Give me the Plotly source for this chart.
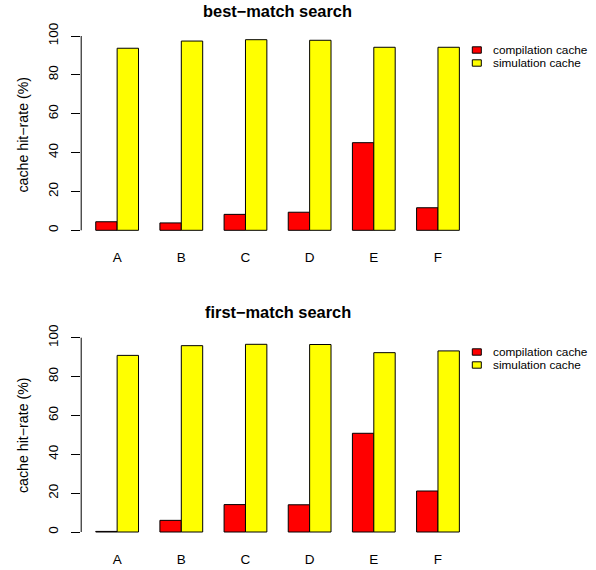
import plotly.graph_objects as go

categories = ["A", "B", "C", "D", "E", "F"]
series_names = ["compilation cache", "simulation cache"]
best_compilation = [4.4, 3.8, 8.2, 9.3, 45.1, 11.6]
best_simulation = [93.7, 97.4, 98.1, 97.8, 94.2, 94.2]
first_compilation = [0.3, 6.0, 14.1, 14.0, 50.8, 21.1]
first_simulation = [90.9, 95.9, 96.6, 96.5, 92.3, 93.2]
panel_titles = ["best\u2212match search", "first\u2212match search"]
y_title = "cache hit\u2212rate (%)"
y_ticks = [0, 20, 40, 60, 80, 100]

W, H = 596, 570
FONT = "Liberation Sans, Arial, Helvetica, sans-serif"
colors = ["#FF0000", "#FFFF00"]

fig = go.Figure()

panels = [
    (best_compilation, best_simulation, "x", "y"),
    (first_compilation, first_simulation, "x2", "y2"),
]
for comp, sim, xa, ya in panels:
    for name, vals, col in zip(series_names, [comp, sim], colors):
        fig.add_trace(go.Bar(
            x=categories, y=vals, name=name, xaxis=xa, yaxis=ya,
            marker=dict(color=col, line=dict(color="black", width=1)),
            showlegend=False, hoverinfo="x+y+name",
        ))

# geometry (pixels measured from reference)
x_left, x_right = 81.2, 473.9
dom_x = [x_left / W, x_right / W]
def ydom(zero_px, hundred_px, lo=-4, hi=102):
    s = (zero_px - hundred_px) / 100.0
    bottom = zero_px - s * lo
    top = zero_px - s * hi
    return [1 - bottom / H, 1 - top / H]

dom_top = ydom(230.3, 36.0)
dom_bot = ydom(532.0, 337.7)

xaxis_common = dict(
    type="category", range=[-0.56, 5.56], showline=False, showgrid=False,
    zeroline=False, ticks="outside", ticklen=0, tickcolor="rgba(0,0,0,0)",
    ticklabelstandoff=7, tickfont=dict(family=FONT, size=13.5, color="black"),
    fixedrange=True, automargin=False,
)
yaxis_common = dict(
    range=[-4, 102], showline=False, showgrid=False, zeroline=False,
    tickmode="array", tickvals=y_ticks, ticktext=[str(v) for v in y_ticks],
    ticks="outside", ticklen=9, tickcolor="black", tickwidth=1,
    tickangle=-90, ticklabelstandoff=8,
    tickfont=dict(family=FONT, size=13.5, color="black"), fixedrange=True,
    automargin=False,
)

fig.update_layout(
    width=W, height=H,
    margin=dict(l=0, r=0, t=0, b=0, autoexpand=False),
    paper_bgcolor="white", plot_bgcolor="white",
    barmode="group", bargap=1/3, bargroupgap=0,
    font=dict(family=FONT, size=13.5, color="black"),
    showlegend=False,
    xaxis=dict(domain=dom_x, anchor="y", **xaxis_common),
    yaxis=dict(domain=dom_top, anchor="x", **yaxis_common),
    xaxis2=dict(domain=dom_x, anchor="y2", **xaxis_common),
    yaxis2=dict(domain=dom_bot, anchor="x2", **yaxis_common),
)

for yref in ["y", "y2"]:
    fig.add_shape(type="line", xref="paper", yref=yref,
                  x0=x_left / W, x1=x_left / W, y0=y_ticks[0], y1=y_ticks[-1],
                  line=dict(color="black", width=1))

title_y = [11.0, 312.0]
ylab_y = [134.5, 435.0]
legend_row1_y = [50.0, 352.0]
for t, ty, ly, lgy in zip(panel_titles, title_y, ylab_y, legend_row1_y):
    fig.add_annotation(text="<b>" + t + "</b>", xref="paper", yref="paper",
                       x=(x_left + x_right) / 2 / W, y=1 - ty / H,
                       xanchor="center", yanchor="middle", showarrow=False,
                       font=dict(family=FONT, size=16.4, color="black"))
    fig.add_annotation(text=y_title, xref="paper", yref="paper",
                       x=23 / W, y=1 - ly / H, textangle=-90,
                       xanchor="center", yanchor="middle", showarrow=False,
                       font=dict(family=FONT, size=14.2, color="black"))
    # legend (R style: small filled boxes + labels)
    for k, (name, col) in enumerate(zip(series_names, colors)):
        cy = lgy + 13 * k
        fig.add_shape(type="rect", xref="paper", yref="paper",
                      x0=472.3 / W, x1=481.3 / W,
                      y0=1 - (cy + 3.2) / H, y1=1 - (cy - 3.2) / H,
                      fillcolor=col, line=dict(color="black", width=1))
        fig.add_annotation(text=name, xref="paper", yref="paper",
                           x=490.5 / W, y=1 - cy / H,
                           xanchor="left", yanchor="middle", showarrow=False,
                           font=dict(family=FONT, size=11.8, color="black"))

fig.write_html(
    "out.html",
    config={"displayModeBar": False},
    post_script="document.body.style.margin='0';document.body.style.overflow='hidden';",
)
